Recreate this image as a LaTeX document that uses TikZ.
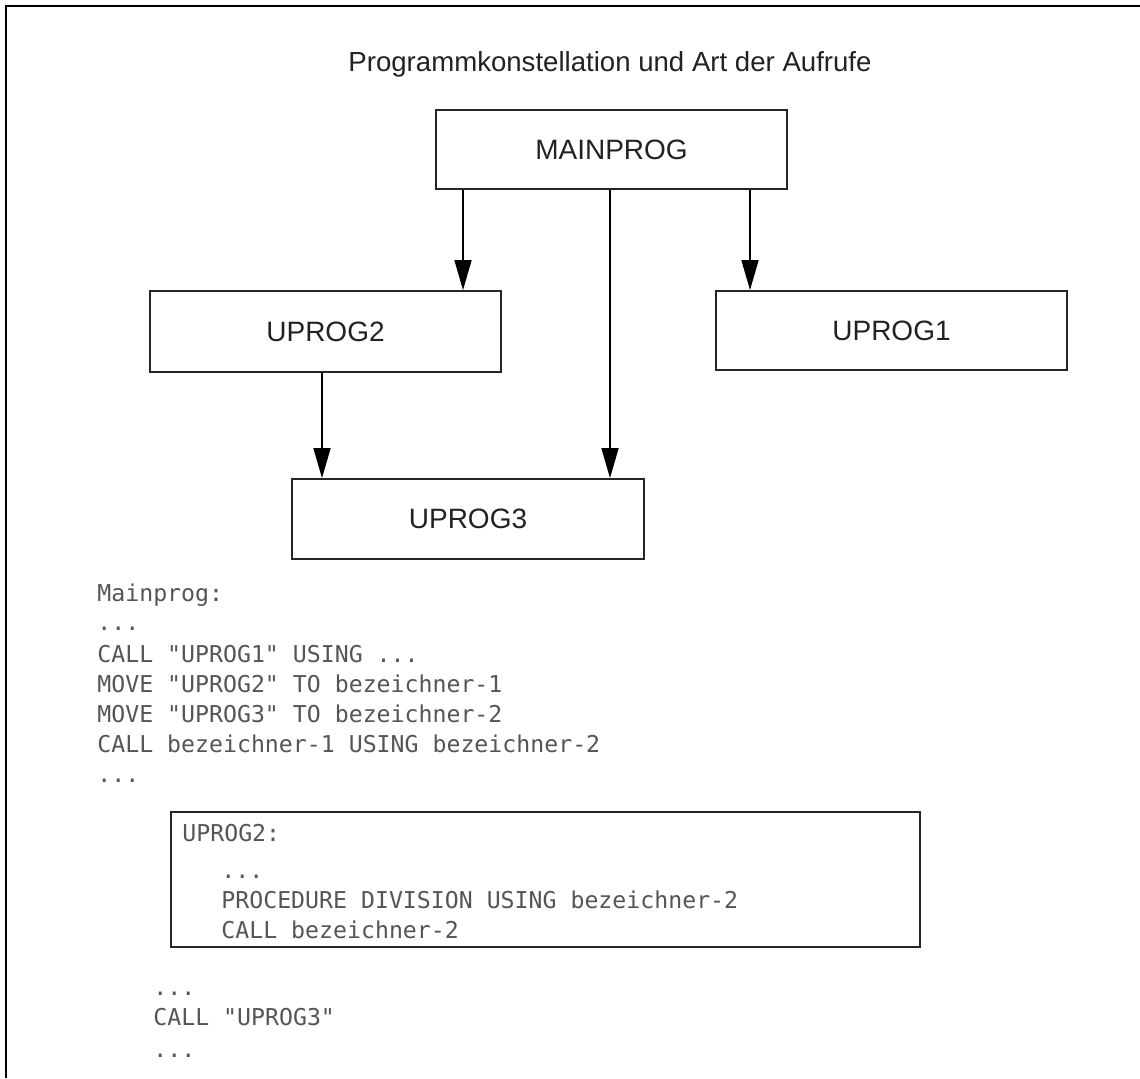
\documentclass[tikz,border=0pt]{standalone}
\usepackage{fontspec}
\setmainfont{Liberation Sans}
\newfontfamily\codefont{DejaVu Sans Mono}
\usetikzlibrary{arrows.meta}
\definecolor{boxtext}{HTML}{222222}
\definecolor{codegray}{HTML}{555555}
\tikzset{
  progbox/.style={draw=black!85, line width=0.9pt, rectangle, minimum width=175.5pt, minimum height=40pt, inner sep=0pt, font=\fontsize{14}{16}\selectfont, text=boxtext},
  callarrow/.style={draw=black, line width=0.75pt, -{Triangle[length=15pt,width=8.5pt]}},
  codeline/.style={anchor=base west, inner sep=0pt, font=\codefont\fontsize{11.6}{13}\selectfont, text=codegray},
  framelines/.style={draw=black, line width=1pt}
}
\begin{document}
\begin{tikzpicture}[x=0.5pt, y=-0.5pt]
\useasboundingbox (0,0) rectangle (1140,1078);
% outer frame (top and left edges visible)
\draw[framelines] (6,1078) -- (6,6) -- (1140,6);

% title
\node[anchor=base, inner sep=0pt, font=\fontsize{13.8}{16}\selectfont, text=boxtext] (title) at (610,71) {Programmkonstellation und Art der Aufrufe};

% program boxes
\node[progbox, minimum height=39.5pt] (mp) at (611.5,149.5) {MAINPROG};
\node[progbox, minimum height=40.5pt] (u2) at (325.5,331.5) {UPROG2};
\node[progbox, minimum height=39.5pt] (u1) at (891.5,330.5) {UPROG1};
\node[progbox, minimum width=176pt] (u3) at (468,519) {UPROG3};

% calls
\draw[callarrow] (mp.south -| 463,0) -- (u2.north -| 463,0);
\draw[callarrow] (mp.south -| 750,0) -- (u1.north -| 750,0);
\draw[callarrow] (mp.south -| 610,0) -- (u3.north -| 610,0);
\draw[callarrow] (u2.south -| 322,0) -- (u3.north -| 322,0);

% main program code
\node[codeline] (m1) at (97,601) {Mainprog:};
\node[codeline] (m2) at (97,630) {...};
\node[codeline] (m3) at (97,662) {CALL "UPROG1" USING ...};
\node[codeline] (m4) at (97,692) {MOVE "UPROG2" TO bezeichner-1};
\node[codeline] (m5) at (97,722) {MOVE "UPROG3" TO bezeichner-2};
\node[codeline] (m6) at (97,752) {CALL bezeichner-1 USING bezeichner-2};
\node[codeline] (m7) at (97,782) {...};

% UPROG2 code box
\node[draw=black!85, line width=0.9pt, rectangle, minimum width=374.5pt, minimum height=67.5pt, inner sep=0pt] (cbox) at (545.5,879.5) {};
\node[codeline] (c1) at (182,841) {UPROG2:};
\node[codeline] (c2) at (221,878) {...};
\node[codeline] (c3) at (221,908) {PROCEDURE DIVISION USING bezeichner-2};
\node[codeline] (c4) at (221,938) {CALL bezeichner-2};

% continuation
\node[codeline] (d1) at (153,995) {...};
\node[codeline] (d2) at (153,1025) {CALL "UPROG3"};
\node[codeline] (d3) at (153,1057) {...};
\end{tikzpicture}
\end{document}
